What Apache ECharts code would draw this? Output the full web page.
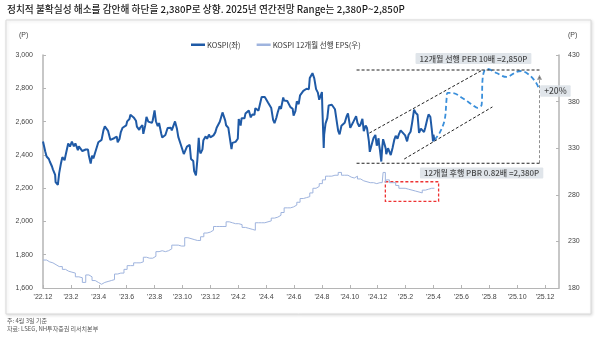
<!DOCTYPE html>
<html>
<head>
<meta charset="utf-8">
<script src="https://cdn.jsdelivr.net/npm/echarts@6/dist/echarts.min.js"></script>
<style>
html,body{margin:0;padding:0;background:#fff;}
#c{width:600px;height:338px;}
</style>
</head>
<body>
<div id="c"></div>
<script>
// ---- data ----
const titleText = '정치적 불확실성 해소를 감안해 하단을 2,380P로 상향. 2025년 연간전망 Range는 2,380P~2,850P';
const noteText = '주: 4월 3일 기준';
const sourceText = '자료: LSEG, NH투자증권 리서치본부';
const kospiName = 'KOSPI(좌)';
const epsName = 'KOSPI 12개월 선행 EPS(우)';
const perLabel = '12개월 선행 PER 10배 =2,850P';
const pbrLabel = '12개월 후행 PBR 0.82배 =2,380P';
const upLabel = '+20%';

const kospiDates = ['2022-12-01','2022-12-06','2022-12-09','2022-12-14','2022-12-16','2022-12-21','2022-12-23','2022-12-28','2022-12-29','2023-01-03','2023-01-06','2023-01-10','2023-01-13','2023-01-18','2023-01-20','2023-01-26','2023-01-30','2023-02-03','2023-02-07','2023-02-10','2023-02-15','2023-02-17','2023-02-21','2023-02-24','2023-02-28','2023-03-03','2023-03-08','2023-03-10','2023-03-14','2023-03-17','2023-03-20','2023-03-24','2023-03-31','2023-04-04','2023-04-07','2023-04-11','2023-04-14','2023-04-18','2023-04-21','2023-04-26','2023-04-28','2023-05-04','2023-05-10','2023-05-12','2023-05-16','2023-05-19','2023-05-23','2023-05-26','2023-05-31','2023-06-02','2023-06-07','2023-06-09','2023-06-13','2023-06-16','2023-06-21','2023-06-23','2023-06-28','2023-06-30','2023-07-05','2023-07-07','2023-07-11','2023-07-14','2023-07-18','2023-07-21','2023-07-26','2023-07-28','2023-08-01','2023-08-04','2023-08-08','2023-08-11','2023-08-16','2023-08-18','2023-08-22','2023-08-25','2023-08-30','2023-09-01','2023-09-06','2023-09-08','2023-09-12','2023-09-15','2023-09-19','2023-09-22','2023-09-27','2023-10-04','2023-10-06','2023-10-11','2023-10-13','2023-10-17','2023-10-20','2023-10-25','2023-10-27','2023-10-31','2023-11-03','2023-11-06','2023-11-08','2023-11-10','2023-11-14','2023-11-16','2023-11-21','2023-11-24','2023-11-28','2023-12-01','2023-12-05','2023-12-08','2023-12-12','2023-12-15','2023-12-19','2023-12-22','2023-12-28','2024-01-03','2024-01-05','2024-01-10','2024-01-12','2024-01-17','2024-01-19','2024-01-23','2024-01-26','2024-01-31','2024-02-02','2024-02-06','2024-02-08','2024-02-14','2024-02-16','2024-02-20','2024-02-23','2024-02-27','2024-03-01','2024-03-06','2024-03-08','2024-03-12','2024-03-15','2024-03-19','2024-03-22','2024-03-26','2024-03-29','2024-04-02','2024-04-05','2024-04-09','2024-04-12','2024-04-16','2024-04-19','2024-04-23','2024-04-26','2024-04-30','2024-05-03','2024-05-08','2024-05-10','2024-05-14','2024-05-17','2024-05-21','2024-05-24','2024-05-29','2024-05-31','2024-06-04','2024-06-07','2024-06-11','2024-06-14','2024-06-18','2024-06-21','2024-06-25','2024-06-28','2024-07-03','2024-07-05','2024-07-09','2024-07-11','2024-07-15','2024-07-19','2024-07-23','2024-07-26','2024-07-30','2024-08-01','2024-08-02','2024-08-05','2024-08-06','2024-08-09','2024-08-13','2024-08-16','2024-08-20','2024-08-23','2024-08-27','2024-08-30','2024-09-04','2024-09-06','2024-09-09','2024-09-13','2024-09-20','2024-09-24','2024-09-27','2024-10-02','2024-10-04','2024-10-08','2024-10-11','2024-10-15','2024-10-18','2024-10-22','2024-10-25','2024-10-29','2024-11-01','2024-11-05','2024-11-08','2024-11-12','2024-11-14','2024-11-15','2024-11-19','2024-11-22','2024-11-26','2024-11-29','2024-12-03','2024-12-04','2024-12-06','2024-12-09','2024-12-11','2024-12-13','2024-12-17','2024-12-19','2024-12-20','2024-12-24','2024-12-27','2024-12-30','2025-01-02','2025-01-03','2025-01-07','2025-01-10','2025-01-14','2025-01-17','2025-01-21','2025-01-24','2025-01-31','2025-02-04','2025-02-07','2025-02-11','2025-02-14','2025-02-18','2025-02-21','2025-02-25','2025-02-28','2025-03-04','2025-03-07','2025-03-11','2025-03-14','2025-03-18','2025-03-21','2025-03-25','2025-03-28','2025-03-31','2025-04-01','2025-04-03'];
const kospiValues = [2480,2420,2390,2375,2360,2330,2313,2280,2236,2219,2290,2350,2386,2368,2395,2468,2450,2480,2451,2469,2428,2451,2458,2423,2413,2432,2432,2394,2348,2395,2379,2414,2476,2480,2490,2547,2571,2575,2544,2490,2501,2500,2510,2475,2495,2537,2563,2559,2577,2601,2615,2641,2637,2625,2605,2570,2550,2564,2579,2526,2574,2628,2600,2609,2592,2608,2667,2602,2573,2591,2525,2504,2516,2519,2561,2563,2563,2547,2537,2601,2559,2508,2465,2405,2408,2450,2456,2460,2375,2363,2302,2277,2368,2502,2427,2409,2433,2488,2511,2496,2522,2505,2495,2517,2535,2563,2568,2599,2655,2607,2578,2562,2525,2435,2472,2478,2478,2497,2615,2576,2620,2620,2648,2657,2667,2625,2642,2641,2680,2681,2666,2657,2748,2737,2747,2753,2714,2705,2681,2610,2591,2623,2656,2692,2676,2745,2727,2731,2724,2724,2687,2677,2636,2663,2722,2705,2758,2764,2784,2774,2797,2794,2862,2867,2891,2860,2795,2774,2731,2738,2777,2676,2441,2522,2588,2621,2697,2696,2701,2689,2674,2580,2544,2523,2575,2593,2631,2649,2562,2569,2594,2596,2633,2593,2570,2583,2617,2542,2576,2561,2482,2418,2416,2471,2501,2520,2455,2500,2464,2428,2360,2443,2494,2456,2435,2404,2440,2429,2399,2399,2441,2492,2515,2497,2523,2547,2536,2517,2481,2521,2539,2591,2671,2654,2641,2532,2558,2563,2537,2566,2612,2643,2629,2557,2481,2521,2486];

const epsDates = ['2022-12-01','2022-12-09','2022-12-16','2022-12-23','2022-12-30','2023-01-06','2023-01-13','2023-01-20','2023-01-27','2023-02-03','2023-02-10','2023-02-17','2023-02-24','2023-03-03','2023-03-10','2023-03-17','2023-03-24','2023-03-31','2023-04-07','2023-04-14','2023-04-21','2023-04-28','2023-05-05','2023-05-12','2023-05-19','2023-05-26','2023-06-02','2023-06-09','2023-06-16','2023-06-23','2023-06-30','2023-07-07','2023-07-14','2023-07-21','2023-07-28','2023-08-04','2023-08-11','2023-08-18','2023-08-25','2023-09-01','2023-09-08','2023-09-15','2023-09-22','2023-09-29','2023-10-06','2023-10-13','2023-10-20','2023-10-27','2023-11-03','2023-11-10','2023-11-17','2023-11-24','2023-12-01','2023-12-08','2023-12-15','2023-12-22','2023-12-29','2024-01-05','2024-01-12','2024-01-19','2024-01-26','2024-02-02','2024-02-09','2024-02-16','2024-02-23','2024-03-01','2024-03-08','2024-03-15','2024-03-22','2024-03-29','2024-04-05','2024-04-12','2024-04-19','2024-04-26','2024-05-03','2024-05-10','2024-05-17','2024-05-24','2024-05-31','2024-06-07','2024-06-14','2024-06-21','2024-06-28','2024-07-05','2024-07-12','2024-07-19','2024-07-26','2024-08-02','2024-08-09','2024-08-16','2024-08-23','2024-08-30','2024-09-06','2024-09-13','2024-09-20','2024-09-27','2024-10-04','2024-10-11','2024-10-18','2024-10-25','2024-11-01','2024-11-08','2024-11-15','2024-11-22','2024-11-29','2024-12-06','2024-12-11','2024-12-13','2024-12-18','2024-12-20','2024-12-27','2025-01-03','2025-01-10','2025-01-17','2025-01-24','2025-01-31','2025-02-07','2025-02-14','2025-02-21','2025-02-28','2025-03-07','2025-03-14','2025-03-21','2025-03-28','2025-04-03'];
const epsValues = [210,208,207,205,203,203,200,198,197,196,192,191,186,194,192,188,186,184,186,187,188,189,195,196,196,200,204,204,207,207,208,213,212,212,214,219,220,219,220,222,226,226,225,225,234,233,232,231,231,235,239,240,242,246,246,246,246,251,250,249,249,248,245,244,243,242,250,250,250,251,252,255,256,258,261,266,266,267,269,272,276,277,278,282,287,289,292,296,300,300,301,301,304,301,301,299,298,300,297,295,294,293,293,292,293,293,295,304,293,296,293,293,290,287,287,286,285,284,283,282,285,286,287,287,287];

// projection path (KOSPI scenario)
const projDates = ['2025-04-03','2025-04-14','2025-04-25','2025-04-29','2025-05-01','2025-05-12','2025-06-03','2025-06-25','2025-07-06','2025-07-15','2025-07-17','2025-07-21','2025-07-28','2025-08-17','2025-09-08','2025-09-29','2025-10-10','2025-10-28','2025-11-12','2025-11-19'];
const projValues = [2489,2531,2610,2730,2772,2772,2742,2700,2682,2700,2850,2904,2916,2892,2868,2898,2904,2880,2832,2790];

// channel & range lines
const channelUpper = [['2024-11-13',2531],['2025-07-17',2910]];
const channelLower = [['2025-01-29',2375],['2025-08-08',2688]];
const rangeTop = [['2024-10-16',2910],['2025-11-19',2910]];
const rangeBottom = [['2024-10-16',2350],['2025-11-19',2350]];
const arrowLine = [['2025-11-19',2350],['2025-11-19',2866]];
const perLabelPos = ['2025-06-27',2979];
const pbrLabelPos = ['2025-07-15',2291];
const upLabelPos = ['2025-12-24',2784];
const epsBox = [['2024-12-18',294],['2025-04-12',273]];

const leftTicks = {min:1600, max:3000, interval:200};
const rightTicks = {min:180, max:430, interval:50};
const xRange = {min:0, max:37, interval:2}; // months since 2022-12

// ---- helpers ----
function toM(s){
  const p = s.split('-').map(Number);
  const dim = new Date(p[0], p[1], 0).getDate();
  return (p[0]-2022)*12 + (p[1]-12) + (p[2]-1)/dim;
}
function pairs(d, v){ return d.map((x,i)=>[toM(x), v[i]]); }
function pts(arr){ return arr.map(a=>[toM(a[0]), a[1]]); }
function mLabel(m){
  const t = 11 + Math.round(m);
  const y = 2022 + Math.floor(t/12);
  const mo = t % 12 + 1;
  return "'" + String(y).slice(2) + '.' + mo;
}

const FONT = "'Liberation Sans', 'Noto Sans CJK KR', sans-serif";
const KFONT = "'Noto Sans CJK KR', 'Liberation Sans', sans-serif";
const dash = {color:'#222', width:1, type:[3,2]};
const boxLabel = {
  show:true, position:'inside', color:'#1e1e1e', fontSize:8, fontFamily:KFONT, fontWeight:500,
  backgroundColor:'#d8dee5', padding:[2,4,1,4], borderRadius:1
};

const chart = echarts.init(document.getElementById('c'), null, {renderer:'canvas'});
const option = {
  animation:false,
  backgroundColor:'#fff',
  grid:{left:43, right:41, top:55, bottom:50, containLabel:false},
  legend:{
    left:186, top:36, itemWidth:14, itemHeight:2.5, itemGap:16, icon:'rect',
    textStyle:{fontSize:7.5, color:'#333', fontFamily:KFONT, padding:[0,0,0,-3]},
    data:[
      {name:kospiName, itemStyle:{color:'#1f5aa6'}},
      {name:epsName, itemStyle:{color:'#9fb4de'}}
    ]
  },
  graphic:[
    {type:'rect', z:-1, silent:true, shape:{x:6,y:20,width:585,height:294},
     style:{fill:'#fff', stroke:'#d9d9d9', lineWidth:1, shadowBlur:3, shadowColor:'rgba(0,0,0,0.12)', shadowOffsetX:1, shadowOffsetY:1}},
    {type:'text', left:7, top:4, style:{text:titleText, fill:'#1a1a1a', font:"500 9.7px "+KFONT}},
    {type:'text', left:19, top:32, style:{text:'(P)', fill:'#444', font:"7px "+FONT}},
    {type:'text', left:568, top:32, style:{text:'(P)', fill:'#444', font:"7px "+FONT}},
    {type:'text', left:7, top:318, style:{text:noteText, fill:'#555', font:"6px "+KFONT}},
    {type:'text', left:7, top:326, style:{text:sourceText, fill:'#555', font:"6px "+KFONT}}
  ],
  xAxis:{
    type:'value', min:xRange.min, max:xRange.max, interval:xRange.interval,
    axisLine:{lineStyle:{color:'#b5b5b5', width:1.2}},
    axisTick:{inside:true, length:3, lineStyle:{color:'#b5b5b5'}},
    splitLine:{show:false},
    axisLabel:{fontSize:7, color:'#444', fontFamily:FONT, margin:6, showMaxLabel:false,
      formatter:function(v){ return (Math.round(v)%2===0) ? mLabel(v) : ''; }}
  },
  yAxis:[
    {type:'value', min:leftTicks.min, max:leftTicks.max, interval:leftTicks.interval,
     axisLine:{show:true, lineStyle:{color:'#b5b5b5', width:1.5}},
     axisTick:{show:true, inside:true, length:3, lineStyle:{color:'#b5b5b5'}},
     splitLine:{show:false},
     axisLabel:{fontSize:7, color:'#444', fontFamily:FONT, margin:10,
       formatter:function(v){ return v.toLocaleString('en-US'); }}},
    {type:'value', min:rightTicks.min, max:rightTicks.max, interval:rightTicks.interval,
     position:'right',
     axisLine:{show:true, lineStyle:{color:'#b5b5b5', width:1.5}},
     axisTick:{show:true, inside:true, length:3, lineStyle:{color:'#b5b5b5'}},
     splitLine:{show:false},
     axisLabel:{fontSize:7, color:'#444', fontFamily:FONT, margin:9}}
  ],
  series:[
    {name:epsName, type:'line', yAxisIndex:1, data:pairs(epsDates, epsValues),
     step:'end', showSymbol:false, symbol:'none', z:2,
     lineStyle:{color:'#9fb4de', width:1},
     markArea:{silent:true, itemStyle:{color:'rgba(0,0,0,0)', borderColor:'#ee3333', borderWidth:1.3, borderType:[3,2]},
       data:[[{xAxis:toM(epsBox[0][0]), yAxis:epsBox[0][1]},{xAxis:toM(epsBox[1][0]), yAxis:epsBox[1][1]}]]}},
    {name:kospiName, type:'line', yAxisIndex:0, data:pairs(kospiDates, kospiValues),
     showSymbol:false, symbol:'none', z:4,
     lineStyle:{color:'#1f5aa6', width:2}},
    {name:'proj', type:'line', data:pairs(projDates, projValues), smooth:0.35,
     showSymbol:false, symbol:'none', z:3,
     lineStyle:{color:'#3a8fdb', width:1.8, type:[5,3]}},
    {name:'chU', type:'line', data:pts(channelUpper), symbol:'none', lineStyle:dash, z:3},
    {name:'chL', type:'line', data:pts(channelLower), symbol:'none', lineStyle:dash, z:3},
    {name:'rT', type:'line', data:pts(rangeTop), symbol:'none', lineStyle:Object.assign({}, dash, {width:1.1}), z:3},
    {name:'rB', type:'line', data:pts(rangeBottom), symbol:'none', lineStyle:Object.assign({}, dash, {width:1.1}), z:3},
    {name:'arrow', type:'lines', coordinateSystem:'cartesian2d', z:3,
     symbol:['none','triangle'], symbolSize:5,
     lineStyle:{color:'#222', width:1, type:[3,2]},
     data:[{coords:pts(arrowLine)}]},
    {name:'labels', type:'scatter', symbolSize:1, z:6,
     itemStyle:{color:'rgba(0,0,0,0)'},
     label:boxLabel,
     data:[
       {value:pts([perLabelPos])[0], label:Object.assign({}, boxLabel, {formatter:perLabel})},
       {value:pts([pbrLabelPos])[0], label:Object.assign({}, boxLabel, {formatter:pbrLabel})},
       {value:pts([upLabelPos])[0], label:Object.assign({}, boxLabel, {formatter:upLabel, fontSize:8.5})}
     ]}
  ]
};
chart.setOption(option);
</script>
</body>
</html>
